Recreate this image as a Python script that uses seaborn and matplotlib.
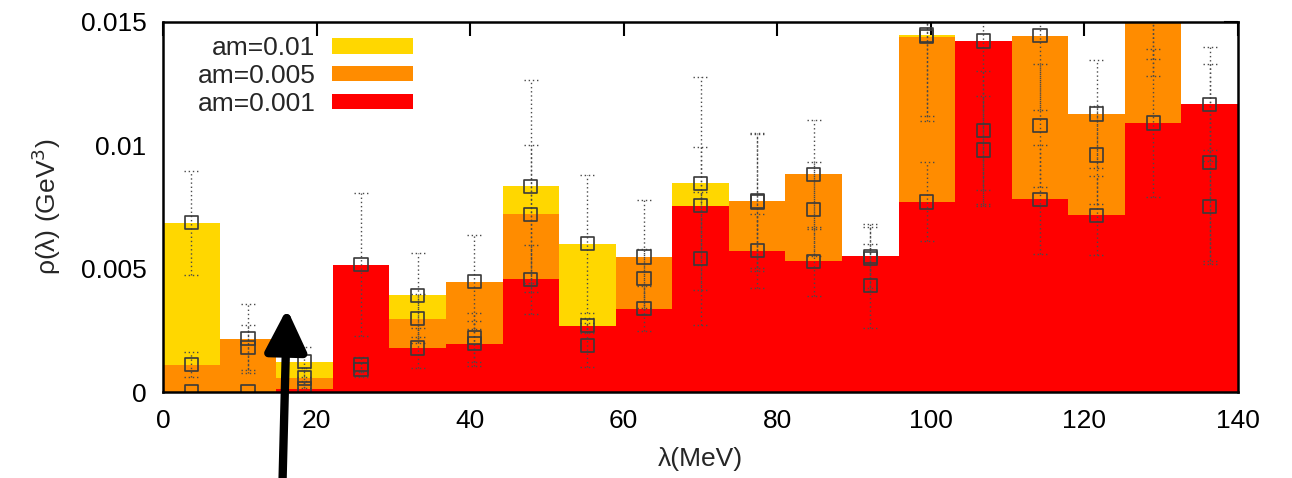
import numpy as np
import pandas as pd
import matplotlib
matplotlib.use("Agg")
import matplotlib.pyplot as plt
import seaborn as sns
from matplotlib.patches import Patch

# ---- data -------------------------------------------------------------
n_bins = 19
lam_min, lam_max = 0.0, 140.0

rho_am0010 = [0.00685, 0.0018, 0.00122, 0.0009, 0.00392, 0.0022, 0.00834, 0.00601, 0.0046, 0.00845,
              0.0077, 0.0074, 0.0043, 0.01446, 0.0106, 0.0108, 0.0096, 0.0158, 0.0093]
err_am0010 = [0.0021, 0.0009, 0.0006, 0.0003, 0.0017, 0.0010, 0.0043, 0.0028, 0.0012, 0.0043,
              0.0028, 0.0019, 0.0017, 0.0035, 0.0024, 0.0025, 0.0020, 0.0030, 0.0040]

rho_am0005 = [0.00111, 0.00216, 0.00057, 0.0011, 0.00297, 0.00446, 0.0072, 0.0019, 0.00547, 0.0054,
              0.00774, 0.00882, 0.0054, 0.01439, 0.0098, 0.01443, 0.01126, 0.0165, 0.0075]
err_am0005 = [0.0005, 0.0014, 0.0004, 0.0003, 0.0010, 0.0019, 0.0028, 0.0009, 0.0023, 0.0027,
              0.0027, 0.0022, 0.0013, 0.0032, 0.0022, 0.0030, 0.0022, 0.0030, 0.0023]

rho_am0001 = [0.0, 0.0, 0.00014, 0.00516, 0.00178, 0.00196, 0.00457, 0.00268, 0.00338, 0.00754,
              0.00572, 0.0053, 0.0055, 0.0077, 0.01422, 0.0078, 0.00716, 0.0109, 0.01166]
err_am0001 = [0.0, 0.0, 0.0003, 0.0029, 0.0008, 0.0009, 0.0014, 0.0003, 0.0009, 0.0024,
              0.0015, 0.0014, 0.0013, 0.0016, 0.0067, 0.0022, 0.0016, 0.0030, 0.0023]

labels = ["am=0.01", "am=0.005", "am=0.001"]
colors = ["#FFD700", "#FF8C00", "#FF0000"]
x_ticks = [0, 20, 40, 60, 80, 100, 120, 140]
y_ticks = [0, 0.005, 0.01, 0.015]
y_tick_labels = ["0", "0.005", "0.01", "0.015"]

# ---- figure -----------------------------------------------------------
sns.set_theme(style="white")
plt.rcParams["font.family"] = ["Liberation Sans", "DejaVu Sans"]
FS = 19

edges = np.linspace(lam_min, lam_max, n_bins + 1)
centers = 0.5 * (edges[:-1] + edges[1:])
cap_half = 0.45 * (edges[1] - edges[0]) * 0.28

fig = plt.figure(figsize=(12.92, 4.78), dpi=100)
ax = fig.add_axes([0.1262, 0.1799, 0.9582 - 0.1262, 0.9546 - 0.1799])

series = [(rho_am0010, err_am0010), (rho_am0005, err_am0005), (rho_am0001, err_am0001)]
for (rho, err), lab, col in zip(series, labels, colors):
    df = pd.DataFrame({"lam": centers, "rho": rho})
    sns.histplot(data=df, x="lam", weights="rho", bins=n_bins,
                 binrange=(lam_min, lam_max), stat="count",
                 element="bars", fill=True, color=col, alpha=1.0,
                 linewidth=0, ax=ax, zorder=2)

dot = (0, (1, 2))
for (rho, err) in series:
    rho = np.asarray(rho)
    err = np.asarray(err)
    m = err > 0
    ax.vlines(centers[m], rho[m] - err[m], rho[m] + err[m], colors="#4a4a4a",
              linewidth=1.0, linestyles=[dot], zorder=4)
    for yy in (rho[m] - err[m], rho[m] + err[m]):
        ax.hlines(yy, centers[m] - cap_half, centers[m] + cap_half,
                  colors="#4a4a4a", linewidth=1.0, linestyles=[dot], zorder=4)
    df = pd.DataFrame({"lam": centers, "rho": rho})
    sns.scatterplot(data=df, x="lam", y="rho", marker="s", s=90,
                    facecolor="none", edgecolor="#3a3a3a", linewidth=1.2,
                    ax=ax, zorder=5, legend=False)

ax.set_xlim(lam_min, lam_max)
ax.set_ylim(0, 0.015)
ax.set_xticks(x_ticks)
ax.set_xticklabels([str(t) for t in x_ticks])
ax.set_yticks(y_ticks)
ax.set_yticklabels(y_tick_labels)
ax.tick_params(direction="in", length=10, width=1.5, top=True, right=True,
               labelsize=FS, colors="black", pad=12)
for sp in ax.spines.values():
    sp.set_visible(True)
    sp.set_color("black")
    sp.set_linewidth(1.8)
    sp.set_zorder(6)

ax.set_xlabel("λ(MeV)", fontsize=FS, labelpad=10)
ax.set_ylabel("ρ(λ) (GeV$^3$)", fontsize=FS, labelpad=13)

handles = [Patch(facecolor=c, edgecolor="none") for c in colors]
ax.legend(handles, labels, loc="upper left", bbox_to_anchor=(0.016, 1.008),
          frameon=False, markerfirst=False, fontsize=FS,
          handlelength=3.05, handleheight=0.55, labelspacing=0.15,
          handletextpad=0.65, borderaxespad=0.25)

# black arrow overlay
ax.annotate("", xy=(287 / 1292, 1 - 306 / 478), xycoords="figure fraction",
            xytext=(282 / 1292, -0.05), textcoords="figure fraction",
            arrowprops=dict(arrowstyle="-|>,head_length=0.85,head_width=0.42",
                            lw=6, color="black", mutation_scale=30),
            annotation_clip=False, zorder=10)

fig.savefig("out.png", dpi=100)
